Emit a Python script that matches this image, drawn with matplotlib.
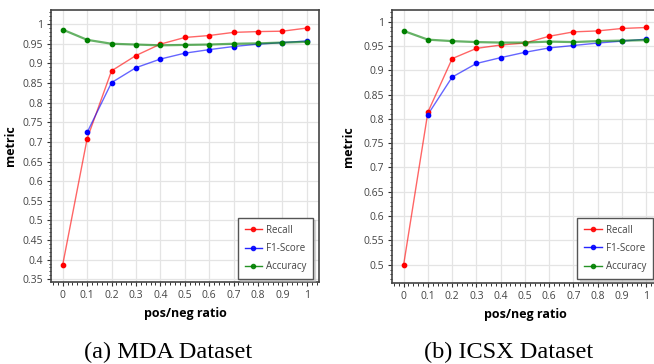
import matplotlib
matplotlib.use("Agg")
import matplotlib.pyplot as plt
import numpy as np
from matplotlib.ticker import MultipleLocator, FuncFormatter

ratios = [0.0, 0.1, 0.2, 0.3, 0.4, 0.5, 0.6, 0.7, 0.8, 0.9, 1.0]

mda_recall = [0.387, 0.708, 0.881, 0.920, 0.949, 0.966, 0.971, 0.979, 0.981, 0.982, 0.990]
mda_f1 = [np.nan, 0.724, 0.851, 0.889, 0.911, 0.926, 0.935, 0.943, 0.949, 0.953, 0.957]
mda_acc = [0.986, 0.960, 0.950, 0.948, 0.946, 0.947, 0.948, 0.950, 0.951, 0.953, 0.955]

icsx_recall = [0.500, 0.814, 0.924, 0.945, 0.952, 0.956, 0.970, 0.979, 0.981, 0.986, 0.988]
icsx_f1 = [np.nan, 0.809, 0.886, 0.914, 0.926, 0.937, 0.946, 0.951, 0.956, 0.960, 0.964]
icsx_acc = [0.981, 0.963, 0.960, 0.958, 0.957, 0.957, 0.959, 0.958, 0.960, 0.961, 0.962]

series_names = ["Recall", "F1-Score", "Accuracy"]
series_colors = ["#ff0000", "#0000ff", "#008000"]
captions = ["(a) MDA Dataset", "(b) ICSX Dataset"]

plt.rcParams['font.family'] = ['Open Sans', 'DejaVu Sans']

fig = plt.figure(figsize=(6.54, 3.64), dpi=100)
W, H = 654.0, 364.0

specs = [
    dict(rect=(51/W, 82/H, 268/W, 272/H), ylim=(0.343, 1.036), ymin_tick=0.35,
         data=[mda_recall, mda_f1, mda_acc], cap_x=168, ylab_x=17, right_spine=True,
         leg_anchor=(0.978, 0.011)),
    dict(rect=(392/W, 81.3/H, 266.4/W, 272.7/H), ylim=(0.463, 1.024), ymin_tick=0.5,
         data=[icsx_recall, icsx_f1, icsx_acc], cap_x=509, ylab_x=355, right_spine=False,
         leg_anchor=(0.979, 0.0136)),
]

def fmt(v, pos):
    s = ("%.2f" % v).rstrip('0').rstrip('.')
    return s

for i, sp in enumerate(specs):
    ax = fig.add_axes(sp['rect'])
    for name, col, vals in zip(series_names, series_colors, sp['data']):
        lw = 1.6 if name == "Accuracy" else 1.0
        ax.plot(ratios, vals, color=col, alpha=0.6, lw=lw, zorder=3)
        ax.plot(ratios, vals, color=col, marker='o', ms=3.1, lw=0, zorder=4)
        ax.plot([], [], color=col, marker='o', ms=3.0, lw=1.0, alpha=0.85, label=name)
    ax.set_xlim(-0.048, 1.05)
    ax.set_ylim(*sp['ylim'])
    ax.set_xticks(ratios)
    ax.xaxis.set_major_formatter(FuncFormatter(fmt))
    ax.set_yticks(np.arange(sp['ymin_tick'], 1.0001, 0.05))
    ax.yaxis.set_major_formatter(FuncFormatter(fmt))
    ax.xaxis.set_minor_locator(MultipleLocator(0.02))
    ax.yaxis.set_minor_locator(MultipleLocator(0.01))
    ax.grid(True, which='major', color='#e4e4e4', lw=0.9)
    ax.set_axisbelow(True)
    ax.tick_params(which='major', direction='out', length=3, width=0.8, color='#333333',
                   labelsize=7.5, labelcolor='#444444', pad=3)
    ax.tick_params(which='minor', direction='out', length=1.8, width=0.7, color='#333333')
    for s in ax.spines.values():
        s.set_color('#444444')
        s.set_linewidth(1.2)
    if not sp['right_spine']:
        ax.spines['right'].set_visible(False)
    ax.set_xlabel("pos/neg ratio", fontsize=9, fontweight='bold', labelpad=4)
    ax.set_ylabel("metric", fontsize=9, fontweight='bold')
    ax.yaxis.set_label_coords((sp['ylab_x'] - sp['rect'][0]*W) / (sp['rect'][2]*W), 0.5)
    leg = ax.legend(loc='lower right', bbox_to_anchor=sp['leg_anchor'], borderaxespad=0,
                    fontsize=7, frameon=True, fancybox=False, shadow={'ox': 1.5, 'oy': -1.5, 'color': '#bbbbbb'},
                    edgecolor='#555555', handlelength=1.8, labelspacing=0.75,
                    borderpad=0.7, handletextpad=0.4)
    leg.get_frame().set_linewidth(1.0)
    for t in leg.get_texts():
        t.set_color('#444444')
    fig.text(sp['cap_x']/W, 1 - 352/H, captions[i], ha='center', va='center',
             fontsize=17.5, family='Liberation Serif')

fig.savefig("out.png", dpi=100)
